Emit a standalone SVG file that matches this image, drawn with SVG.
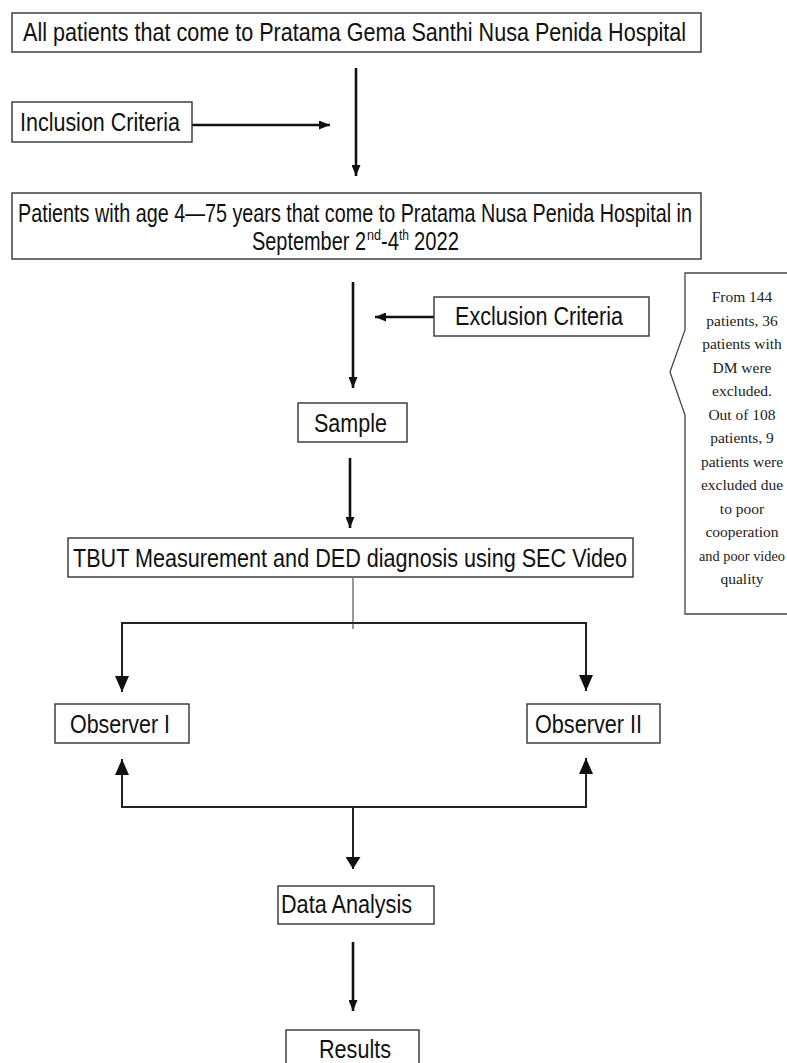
<svg xmlns="http://www.w3.org/2000/svg" width="787" height="1063" viewBox="0 0 787 1063">
<style>
.box{fill:#fff;stroke:#333;stroke-width:1.4}
.t{font-family:"Liberation Sans",Arial,sans-serif;font-size:26px;fill:#111}
.sup{font-family:"Liberation Sans",Arial,sans-serif;font-size:15px;fill:#111}
.n{font-family:"Liberation Serif","Times New Roman",serif;font-size:15.5px;fill:#222;text-anchor:middle}
.c{fill:none;stroke:#111;stroke-width:2.6}
.c2{fill:none;stroke:#222;stroke-width:2}
.thin{fill:none;stroke:#333;stroke-width:1}
</style>
<defs>
<marker id="arr" markerUnits="userSpaceOnUse" viewBox="0 0 11 9" markerWidth="11" markerHeight="9" refX="11" refY="4.5" orient="auto"><path d="M0,0 L11,4.5 L0,9 Z" fill="#111"/></marker>
<marker id="arrB" markerUnits="userSpaceOnUse" viewBox="0 0 16 14" markerWidth="16" markerHeight="14" refX="16" refY="7" orient="auto"><path d="M0,0 L16,7 L0,14 Z" fill="#111"/></marker>
<marker id="arrM" markerUnits="userSpaceOnUse" viewBox="0 0 12 15" markerWidth="12" markerHeight="15" refX="12" refY="7.5" orient="auto"><path d="M0,0 L12,7.5 L0,15 Z" fill="#111"/></marker>
</defs>

<g id="connectors">
<line class="c" x1="356" y1="68" x2="356" y2="176" marker-end="url(#arr)"/>
<line class="c" x1="192" y1="125" x2="330" y2="125" marker-end="url(#arr)"/>
<line class="c" x1="353" y1="282" x2="353" y2="388" marker-end="url(#arr)"/>
<line class="c" x1="434" y1="317" x2="375" y2="317" marker-end="url(#arr)"/>
<line class="c" x1="350" y1="458" x2="350" y2="528" marker-end="url(#arr)"/>
<line class="thin" x1="353" y1="578" x2="353" y2="629"/>
<path class="c2" d="M353,623 H122 V692" marker-end="url(#arrB)"/>
<path class="c2" d="M353,623 H586 V691" marker-end="url(#arrB)"/>
<path class="c2" d="M353,807 H122 V759" marker-end="url(#arrB)"/>
<path class="c2" d="M353,807 H586 V758" marker-end="url(#arrB)"/>
<line class="c2" x1="353" y1="807" x2="353" y2="869" marker-end="url(#arrM)"/>
<line class="c" x1="353" y1="942" x2="353" y2="1011" marker-end="url(#arr)"/>
</g>

<g id="all-patients">
<rect class="box" x="12" y="13" width="689" height="39"/>
<text class="t" x="23" y="41" textLength="663" lengthAdjust="spacingAndGlyphs">All patients that come to Pratama Gema Santhi Nusa Penida Hospital</text>
</g>

<g id="inclusion">
<rect class="box" x="12" y="102" width="180" height="40"/>
<text class="t" x="20" y="131" textLength="160" lengthAdjust="spacingAndGlyphs">Inclusion Criteria</text>
</g>

<g id="patients-age">
<rect class="box" x="12" y="193" width="689" height="66"/>
<text class="t" x="18" y="222" textLength="674" lengthAdjust="spacingAndGlyphs">Patients with age 4—75 years that come to Pratama Nusa Penida Hospital in</text>
<text class="t" x="252" y="250" textLength="114" lengthAdjust="spacingAndGlyphs">September 2</text>
<text class="sup" x="367" y="240" textLength="14" lengthAdjust="spacingAndGlyphs">nd</text>
<text class="t" x="381" y="250" textLength="18" lengthAdjust="spacingAndGlyphs">-4</text>
<text class="sup" x="399" y="240" textLength="10" lengthAdjust="spacingAndGlyphs">th</text>
<text class="t" x="414" y="250" textLength="45" lengthAdjust="spacingAndGlyphs">2022</text>
</g>

<g id="exclusion">
<rect class="box" x="434" y="297" width="215" height="39"/>
<text class="t" x="455" y="325" textLength="168" lengthAdjust="spacingAndGlyphs">Exclusion Criteria</text>
</g>

<g id="note">
<path d="M787,273 H685 V330 L670,372 L685,415 V614 H787" fill="#fff" stroke="#444" stroke-width="1.3"/>
<text class="n" x="742" y="302">From 144</text>
<text class="n" x="742" y="325.5">patients, 36</text>
<text class="n" x="742" y="349">patients with</text>
<text class="n" x="742" y="372.5">DM were</text>
<text class="n" x="742" y="396">excluded.</text>
<text class="n" x="742" y="419.5">Out of 108</text>
<text class="n" x="742" y="443">patients, 9</text>
<text class="n" x="742" y="466.5">patients were</text>
<text class="n" x="742" y="490">excluded due</text>
<text class="n" x="742" y="513.5">to poor</text>
<text class="n" x="742" y="537">cooperation</text>
<text class="n" x="742" y="560.5" textLength="86" lengthAdjust="spacingAndGlyphs">and poor video</text>
<text class="n" x="742" y="584">quality</text>
</g>

<g id="sample">
<rect class="box" x="298" y="403" width="109" height="39"/>
<text class="t" x="314" y="432" textLength="73" lengthAdjust="spacingAndGlyphs">Sample</text>
</g>

<g id="tbut">
<rect class="box" x="68" y="538" width="565" height="39"/>
<text class="t" x="73" y="567" textLength="554" lengthAdjust="spacingAndGlyphs">TBUT Measurement and DED diagnosis using SEC Video</text>
</g>

<g id="observer-1">
<rect class="box" x="55" y="704" width="134" height="39"/>
<text class="t" x="70" y="733" textLength="100" lengthAdjust="spacingAndGlyphs">Observer I</text>
</g>

<g id="observer-2">
<rect class="box" x="527" y="704" width="133" height="39"/>
<text class="t" x="535" y="733" textLength="107" lengthAdjust="spacingAndGlyphs">Observer II</text>
</g>

<g id="data-analysis">
<rect class="box" x="278" y="886" width="156" height="38"/>
<text class="t" x="281" y="913" textLength="131" lengthAdjust="spacingAndGlyphs">Data Analysis</text>
</g>

<g id="results">
<rect class="box" x="286" y="1030" width="133" height="45"/>
<text class="t" x="319" y="1058" textLength="72" lengthAdjust="spacingAndGlyphs">Results</text>
</g>
</svg>
